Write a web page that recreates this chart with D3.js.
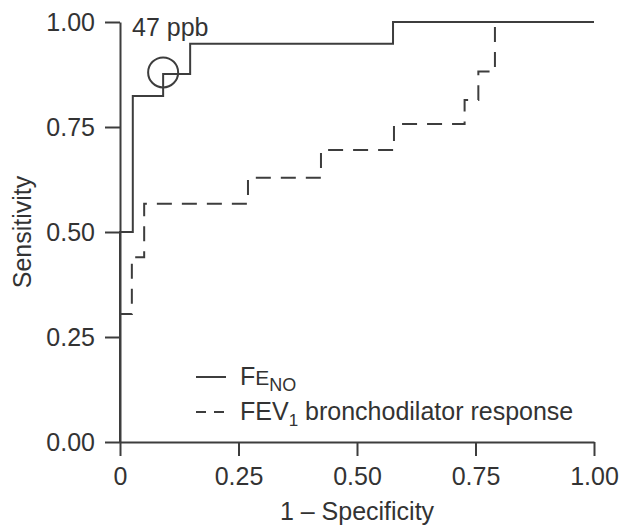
<!DOCTYPE html>
<html>
<head>
<meta charset="utf-8">
<script src="https://cdn.jsdelivr.net/npm/d3@7/dist/d3.min.js"></script>
<style>
  body { margin: 0; background: #fff; }
  svg { display: block; }
</style>
</head>
<body>
<div id="chart"></div>
<script>
// ROC curves: 1 - specificity (x) and sensitivity (y), step corners
const fenoFpr = [0, 0, 0.027, 0.091, 0.148, 0.576, 1];
const fenoTpr = [0, 0.5, 0.824, 0.876, 0.948, 1, 1];

const fevFpr = [0, 0, 0.025, 0.051, 0.27, 0.424, 0.578, 0.727, 0.756, 0.791, 1];
const fevTpr = [0, 0.305, 0.44, 0.567, 0.629, 0.695, 0.757, 0.814, 0.882, 1, 1];

const xTicks = [0, 0.25, 0.5, 0.75, 1];
const xTickLabels = ['0', '0.25', '0.50', '0.75', '1.00'];
const yTicks = [0, 0.25, 0.5, 0.75, 1];
const yTickLabels = ['0.00', '0.25', '0.50', '0.75', '1.00'];

// cut-off marked on the FeNO curve
const cutoff = { fpr: 0.091, tpr: 0.88, label: '47 ppb' };

const width = 621, height = 525;
const ink = '#3d3d3d';
const font = '"Liberation Sans", Arial, Helvetica, sans-serif';
const fs = '25px';

const svg = d3.select('#chart').append('svg')
  .attr('width', width)
  .attr('height', height)
  .style('font-family', font);

const x = d3.scaleLinear().domain([0, 1]).range([120, 594]);
const y = d3.scaleLinear().domain([0, 1]).range([442, 22]);

// axes
const xAxis = svg.append('g')
  .attr('transform', `translate(0,${y(0)})`)
  .call(d3.axisBottom(x).tickValues(xTicks)
    .tickFormat((d, i) => xTickLabels[i])
    .tickSize(14).tickSizeOuter(0).tickPadding(11));

const yAxis = svg.append('g')
  .attr('transform', `translate(${x(0)},0)`)
  .call(d3.axisLeft(y).tickValues(yTicks)
    .tickFormat((d, i) => yTickLabels[i])
    .tickSize(15).tickSizeOuter(0).tickPadding(10));

[xAxis, yAxis].forEach(a => {
  a.select('.domain').attr('stroke', ink).attr('stroke-width', 2);
  a.selectAll('.tick line').attr('stroke', ink).attr('stroke-width', 2);
  a.selectAll('.tick text')
    .attr('fill', '#333')
    .style('font-size', fs)
    .style('font-family', font);
});

// curves
const line = d3.line()
  .x(d => x(d[0]))
  .y(d => y(d[1]))
  .curve(d3.curveStepAfter);

const fevData = fevFpr.map((v, i) => [v, fevTpr[i]]);
const fenoData = fenoFpr.map((v, i) => [v, fenoTpr[i]]);

svg.append('path')
  .datum(fevData)
  .attr('d', line)
  .attr('fill', 'none')
  .attr('stroke', ink)
  .attr('stroke-width', 2)
  .attr('stroke-dasharray', '15,10');

svg.append('path')
  .datum(fenoData)
  .attr('d', line)
  .attr('fill', 'none')
  .attr('stroke', ink)
  .attr('stroke-width', 2);

// cut-off marker
svg.append('circle')
  .attr('cx', x(cutoff.fpr))
  .attr('cy', y(cutoff.tpr))
  .attr('r', 15)
  .attr('fill', 'none')
  .attr('stroke', ink)
  .attr('stroke-width', 2);

svg.append('text')
  .attr('x', 132)
  .attr('y', 36)
  .attr('fill', '#333')
  .style('font-size', fs)
  .text(cutoff.label);

// axis titles
svg.append('text')
  .attr('x', x(0.5))
  .attr('y', 520)
  .attr('text-anchor', 'middle')
  .attr('fill', '#333')
  .style('font-size', fs)
  .text('1 \u2013 Specificity');

svg.append('text')
  .attr('transform', `translate(31,${y(0.5)}) rotate(-90)`)
  .attr('text-anchor', 'middle')
  .attr('fill', '#333')
  .style('font-size', fs)
  .text('Sensitivity');

// legend
const legend = svg.append('g');

legend.append('line')
  .attr('x1', 196).attr('x2', 226)
  .attr('y1', 377).attr('y2', 377)
  .attr('stroke', ink).attr('stroke-width', 2);

legend.append('line')
  .attr('x1', 196).attr('x2', 226)
  .attr('y1', 412).attr('y2', 412)
  .attr('stroke', ink).attr('stroke-width', 2)
  .attr('stroke-dasharray', '10,8');

const t1 = legend.append('text')
  .attr('x', 240).attr('y', 385)
  .attr('fill', '#333')
  .style('font-size', fs);
t1.append('tspan').text('F');
t1.append('tspan').style('font-size', '21px').text('E');
t1.append('tspan').style('font-size', '18px').attr('dy', 6).text('NO');

const t2 = legend.append('text')
  .attr('x', 240).attr('y', 420)
  .attr('fill', '#333')
  .style('font-size', fs);
t2.append('tspan').text('FEV');
t2.append('tspan').style('font-size', '17px').attr('dy', 6).text('1');
t2.append('tspan').attr('dy', -6).text(' bronchodilator response');
</script>
</body>
</html>
